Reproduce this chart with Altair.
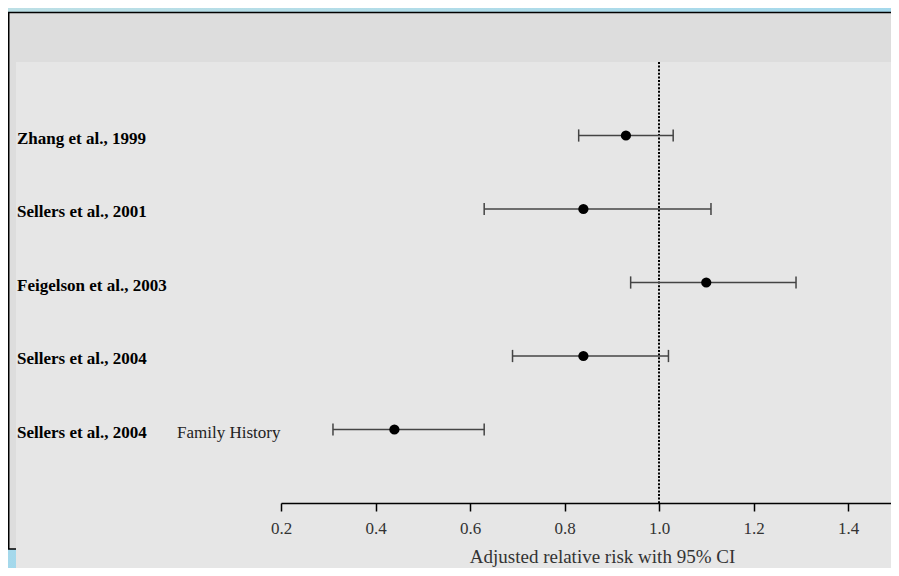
import altair as alt
import pandas as pd

# ---- data ----
studies = ["Zhang et al., 1999", "Sellers et al., 2001", "Feigelson et al., 2003",
           "Sellers et al., 2004", "Sellers et al., 2004"]
subgroups = ["", "", "", "", "Family History"]
rows = [1, 2, 3, 4, 5]
rr = [0.93, 0.84, 1.10, 0.84, 0.44]
ci_low = [0.83, 0.63, 0.94, 0.69, 0.31]
ci_high = [1.03, 1.11, 1.29, 1.02, 0.63]
ticks = [0.2, 0.4, 0.6, 0.8, 1.0, 1.2, 1.4]
null_value = [1.0]
x_title = "Adjusted relative risk with 95% CI"

df = pd.DataFrame({"study": studies, "sub": subgroups, "row": rows,
                   "rr": rr, "lo": ci_low, "hi": ci_high})
df_sub = df[df["sub"] != ""]
one = pd.DataFrame({"k": [0]})
ref = pd.DataFrame({"v": null_value})

W, H = 610, 441
PL, PT = 273, 54
TOTAL_W, TOTAL_H = 883, 560

FONT = "Liberation Serif"
xs = alt.Scale(domain=[0.2, 1.491], nice=False, zero=False)
ys = alt.Scale(domain=[0, 6], reverse=True, nice=False, zero=False)

x_axis = alt.Axis(values=ticks, format=".1f", title=x_title,
                  domainColor="#000000", domainWidth=1.5,
                  tickColor="#000000", tickWidth=1.5, tickSize=8,
                  labelFont=FONT, labelFontSize=17, labelColor="#333333",
                  labelPadding=9, labelFlush=False,
                  titleFont=FONT, titleFontSize=19, titleFontWeight="normal",
                  titleColor="#333333", titleX=321, titleY=59,
                  titleAlign="center", titleBaseline="alphabetic",
                  grid=False, zindex=1)

grad = alt.Gradient(gradient="linear",
                    stops=[alt.GradientStop(color="#bcdfe5", offset=0),
                           alt.GradientStop(color="#8dd2f2", offset=1)],
                    x1=0, y1=0, x2=1, y2=1)

bg = alt.Chart(one).mark_rect(fill=grad).encode(
    x=alt.value(-PL), x2=alt.value(TOTAL_W - PL),
    y=alt.value(-PT), y2=alt.value(TOTAL_H - PT))

outer = alt.Chart(one).mark_rect(fill="#dddddd", stroke="#000000", strokeWidth=1.5).encode(
    x=alt.value(-PL + 0.75), x2=alt.value(TOTAL_W - PL + 20),
    y=alt.value(-PT + 4.5), y2=alt.value(541 - PT))

inner = alt.Chart(one).mark_rect(fill="#e6e6e6").encode(
    x=alt.value(8 - PL), x2=alt.value(TOTAL_W - PL + 20),
    y=alt.value(0), y2=alt.value(TOTAL_H - PT + 20))

refline = alt.Chart(ref).mark_rule(color="#000000", strokeWidth=2, strokeDash=[2, 1.6]).encode(
    x=alt.X("v:Q", scale=xs, axis=x_axis),
    y=alt.value(0), y2=alt.value(H))

bars = alt.Chart(df).mark_rule(color="#444444", strokeWidth=1.5).encode(
    x=alt.X("lo:Q", scale=xs, axis=x_axis),
    x2="hi:Q",
    y=alt.Y("row:Q", scale=ys, axis=None))

cap_shape = "M0,-1L0,1"
caps_lo = alt.Chart(df).mark_point(shape=cap_shape, size=150, filled=False,
                                   stroke="#444444", strokeWidth=1.5, opacity=1).encode(
    x=alt.X("lo:Q", scale=xs, axis=x_axis),
    y=alt.Y("row:Q", scale=ys, axis=None))
caps_hi = alt.Chart(df).mark_point(shape=cap_shape, size=150, filled=False,
                                   stroke="#444444", strokeWidth=1.5, opacity=1).encode(
    x=alt.X("hi:Q", scale=xs, axis=x_axis),
    y=alt.Y("row:Q", scale=ys, axis=None))

points = alt.Chart(df).mark_circle(size=105, color="#000000", opacity=1).encode(
    x=alt.X("rr:Q", scale=xs, axis=x_axis),
    y=alt.Y("row:Q", scale=ys, axis=None))

labels = alt.Chart(df).mark_text(align="left", baseline="middle", dy=3,
                                 font=FONT, fontSize=17, fontWeight="bold",
                                 color="#000000").encode(
    x=alt.value(9 - PL),
    y=alt.Y("row:Q", scale=ys, axis=None),
    text="study:N")

sublabels = alt.Chart(df_sub).mark_text(align="left", baseline="middle", dy=3,
                                        font=FONT, fontSize=17, color="#222222").encode(
    x=alt.value(169 - PL),
    y=alt.Y("row:Q", scale=ys, axis=None),
    text="sub:N")

chart = alt.layer(bg, outer, inner, refline, bars, caps_lo, caps_hi, points,
                  labels, sublabels).properties(
    width=W, height=H,
    autosize=alt.AutoSizeParams(type="none"),
    padding={"left": PL, "top": PT, "right": TOTAL_W - PL - W, "bottom": TOTAL_H - PT - H},
    background="#a9dbea",
).configure_view(stroke=None, fill=None).configure_axis(
    labelFont=FONT, titleFont=FONT
).configure(font=FONT)

chart.save("out.html", embed_options={"renderer": "svg", "actions": False})
